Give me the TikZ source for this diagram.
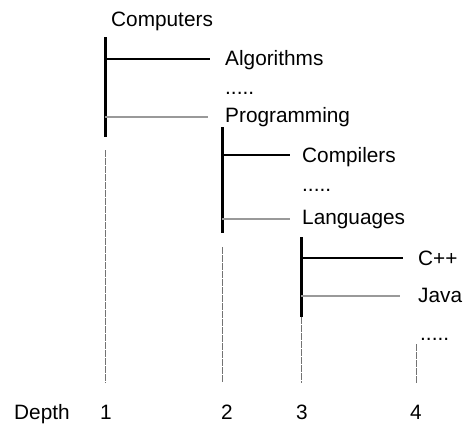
\documentclass[tikz,border=0pt]{standalone}
\usepackage{fontspec}
\setmainfont{Liberation Sans}
\begin{document}
\begin{tikzpicture}[x=1pt,y=-1pt,
  lbl/.style={anchor=base west,inner sep=0pt,font=\fontsize{20.8}{25}\selectfont},
  num/.style={anchor=base,inner sep=0pt,font=\fontsize{20.8}{25}\selectfont},
  trunk/.style={line width=3pt,black},
  branch/.style={line width=1.3pt,black},
  lastbranch/.style={line width=1.3pt,black!40},
  guide/.style={line width=1pt,black!55,dash pattern=on 7pt off 1pt}]
\useasboundingbox (0,0) rectangle (464,424);
% labels
\node[lbl] (computers) at (111,26) {Computers};
\node[lbl] (algorithms) at (225,65) {Algorithms};
\node[lbl] (dots1) at (225,94) {.....};
\node[lbl] (programming) at (225,122) {Programming};
\node[lbl] (compilers) at (302,162) {Compilers};
\node[lbl] (dots2) at (302,191) {.....};
\node[lbl] (languages) at (302,224) {Languages};
\node[lbl] (cpp) at (418,265) {C++};
\node[lbl] (java) at (418,302) {Java};
\node[lbl] (dots4) at (420,340) {.....};
\node[lbl] (depth) at (14,419) {Depth};
\node[num] (d1) at (106,419) {1};
\node[num] (d2) at (227,419) {2};
\node[num] (d3) at (302,419) {3};
\node[num] (d4) at (416,419) {4};
% trunk coordinates
\coordinate (t1s) at (105,37);
\coordinate (t1e) at (105,137);
\coordinate (g1s) at (105,150);
\coordinate (t2s) at (222,127);
\coordinate (t2e) at (222,233);
\coordinate (g2s) at (222,247);
\coordinate (t3s) at (301,237);
\coordinate (t3e) at (301,317);
\coordinate (g4s) at (416,344);
% branch start points
\coordinate (b1a) at (105,59);
\coordinate (b1b) at (105,117);
\coordinate (b2a) at (222,155);
\coordinate (b2b) at (222,219);
\coordinate (b3a) at (301,258);
\coordinate (b3b) at (301,296);
% guides down to depth numbers
\draw[guide] (g1s) -- (g1s |- 0,383);
\draw[guide] (g2s) -- (g2s |- 0,383);
\draw[guide] (t3e) -- (t3e |- 0,383);
\draw[guide] (g4s) -- (g4s |- 0,383);
% trunks
\draw[trunk] (t1s) -- (t1e);
\draw[trunk] (t2s) -- (t2e);
\draw[trunk] (t3s) -- (t3e);
% branches
\draw[branch] (b1a) -- ([xshift=-15pt]b1a -| algorithms.west);
\draw[lastbranch] (b1b) -- ([xshift=-17pt]b1b -| programming.west);
\draw[branch] (b2a) -- ([xshift=-12pt]b2a -| compilers.west);
\draw[lastbranch] (b2b) -- ([xshift=-12pt]b2b -| languages.west);
\draw[branch] (b3a) -- ([xshift=-15pt]b3a -| cpp.west);
\draw[lastbranch] (b3b) -- ([xshift=-18pt]b3b -| java.west);
\end{tikzpicture}
\end{document}
